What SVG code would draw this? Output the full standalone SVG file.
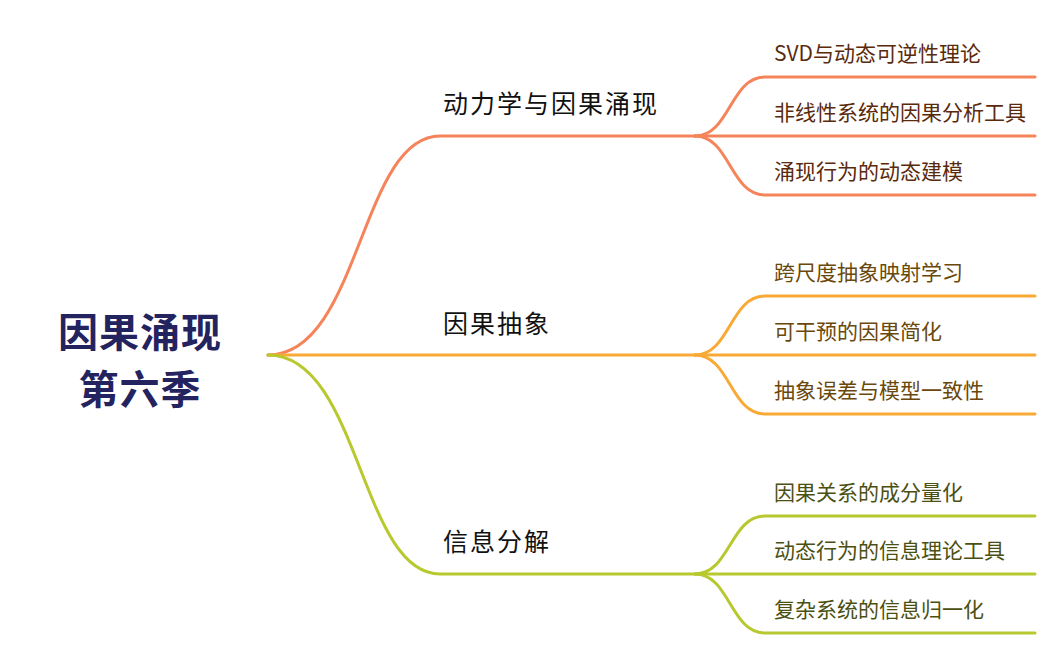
<svg xmlns="http://www.w3.org/2000/svg" width="1055" height="654" viewBox="0 0 1055 654">
<style>
text{font-family:"Noto Sans CJK SC","Noto Sans",sans-serif}
.root{font-size:40px;font-weight:bold;fill:#23235f;letter-spacing:1px}
.br{font-size:25px;fill:#111111;letter-spacing:2px}
.lf{font-size:21px}
.c1{stroke:#f5845a}.c2{stroke:#f9a936}.c3{stroke:#b7c92f}
.t1{fill:#5a2a0c}.t2{fill:#6a480c}.t3{fill:#4b5012}
path{fill:none;stroke-width:3;stroke-linecap:round}
</style>
<rect width="1055" height="654" fill="#ffffff"/>
<g id="connectors">
<path class="c1" d="M268,355 C360,355 360,136 440,136 L695,136"/>
<path class="c2" d="M268,355 L695,355"/>
<path class="c3" d="M268,355 C360,355 360,574 440,574 L695,574"/>
<path class="c1" d="M695,136 C730,136 730,77 765,77 L1035,77"/>
<path class="c1" d="M695,136 L1035,136"/>
<path class="c1" d="M695,136 C730,136 730,195 765,195 L1035,195"/>
<path class="c2" d="M695,355 C730,355 730,296 765,296 L1035,296"/>
<path class="c2" d="M695,355 L1035,355"/>
<path class="c2" d="M695,355 C730,355 730,414 765,414 L1035,414"/>
<path class="c3" d="M695,574 C730,574 730,516 765,516 L1035,516"/>
<path class="c3" d="M695,574 L1035,574"/>
<path class="c3" d="M695,574 C730,574 730,633 765,633 L1035,633"/>
</g>
<g id="root"><text class="root" x="140" y="347" text-anchor="middle">因果涌现</text><text class="root" x="140" y="404" text-anchor="middle">第六季</text></g>
<g id="b1"><text class="br" x="443" y="113">动力学与因果涌现</text></g>
<g id="b2"><text class="br" x="443" y="333">因果抽象</text></g>
<g id="b3"><text class="br" x="443" y="551">信息分解</text></g>
<g id="l1"><text class="lf t1" x="774" y="61">SVD与动态可逆性理论</text></g>
<g id="l2"><text class="lf t1" x="774" y="120">非线性系统的因果分析工具</text></g>
<g id="l3"><text class="lf t1" x="774" y="179">涌现行为的动态建模</text></g>
<g id="l4"><text class="lf t2" x="774" y="280">跨尺度抽象映射学习</text></g>
<g id="l5"><text class="lf t2" x="774" y="339">可干预的因果简化</text></g>
<g id="l6"><text class="lf t2" x="774" y="398">抽象误差与模型一致性</text></g>
<g id="l7"><text class="lf t3" x="774" y="500">因果关系的成分量化</text></g>
<g id="l8"><text class="lf t3" x="774" y="558">动态行为的信息理论工具</text></g>
<g id="l9"><text class="lf t3" x="774" y="617">复杂系统的信息归一化</text></g>
</svg>
